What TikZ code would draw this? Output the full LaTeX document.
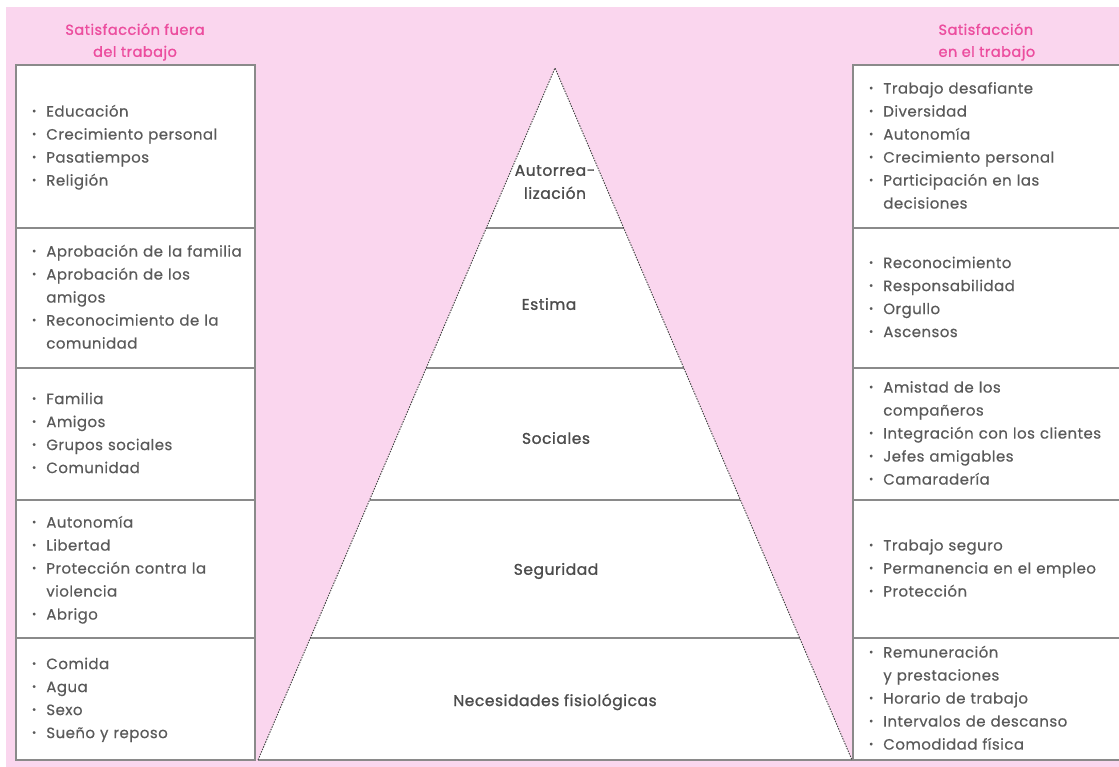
\documentclass[tikz,border=0pt]{standalone}
\usepackage{fontspec}
\setmainfont{Poppins}[LetterSpace=3,FakeBold=0.4]
\newfontfamily\etiqfont{Poppins}[LetterSpace=3.5,FakeBold=1.2]
\usetikzlibrary{positioning,calc}
\definecolor{rosa}{HTML}{FAD6EE}
\definecolor{rosatit}{HTML}{EC4D9E}
\definecolor{gristxt}{HTML}{5A5A5A}
\definecolor{grisln}{HTML}{8A8A8A}
\newcommand\pto{\raisebox{.25ex}{\scalebox{.7}{\textbullet}}}
\newcommand\lst[1]{\begin{tabular}{@{}l@{\hspace{10pt}}l@{}}#1\end{tabular}}

\begin{document}
\begin{tikzpicture}[x=1pt,y=-1pt,
        caja/.style={draw=grisln,line width=1.4pt,fill=white,outer sep=0pt,align=left,
          text=gristxt,font=\fontsize{15}{23}\selectfont},
        caja izq/.style={caja,text width=207pt,inner xsep=16pt},
        caja der/.style={caja,text width=258pt,inner xsep=16pt},
        etiq/.style={align=center,text=gristxt!85!black,font=\etiqfont\fontsize{15.5}{23}\selectfont},
        titulo/.style={text=rosatit,font=\etiqfont\fontsize{14.5}{22}\selectfont},
        nivel/.style={draw=grisln,line width=1.4pt},
        lado/.style={draw=black!75,line width=0.9pt,dash pattern=on 1.5pt off 1.2pt}]

        \useasboundingbox (0,0) rectangle (1119,767);
        \fill[white] (0,0) rectangle (1119,767);
        \fill[rosa] (6,7) rectangle (1119,767);

        \node[titulo,align=center] (t1) at (135,42) {Satisfacción fuera\\del trabajo};
        \node[titulo,align=left,anchor=west] (t2) at (935,42) {Satisfacción\\en el trabajo};

        \node[caja izq,minimum height=163pt,anchor=north west] (i1) at (16,65)
          {\lst{\pto & Educación\\ \pto & Crecimiento personal\\ \pto & Pasatiempos\\ \pto & Religión}};
        \node[caja izq,minimum height=140pt,below=0pt of i1] (i2)
          {\lst{\pto & Aprobación de la familia\\ \pto & Aprobación de los\\ & amigos\\ \pto & Reconocimiento de la\\ & comunidad}};
        \node[caja izq,minimum height=132pt,below=0pt of i2] (i3)
          {\lst{\pto & Familia\\ \pto & Amigos\\ \pto & Grupos sociales\\ \pto & Comunidad}};
        \node[caja izq,minimum height=138pt,below=0pt of i3] (i4)
          {\lst{\pto & Autonomía\\ \pto & Libertad\\ \pto & Protección contra la\\ & violencia\\ \pto & Abrigo}};
        \node[caja izq,minimum height=122pt,below=0pt of i4] (i5)
          {\lst{\pto & Comida\\ \pto & Agua\\ \pto & Sexo\\ \pto & Sueño y reposo}};

        \node[caja der,minimum height=163pt,anchor=north west] (d1) at (853,65)
          {\lst{\pto & Trabajo desafiante\\ \pto & Diversidad\\ \pto & Autonomía\\ \pto & Crecimiento personal\\ \pto & Participación en las\\ & decisiones}};
        \node[caja der,minimum height=140pt,below=0pt of d1] (d2)
          {\lst{\pto & Reconocimiento\\ \pto & Responsabilidad\\ \pto & Orgullo\\ \pto & Ascensos}};
        \node[caja der,minimum height=132pt,below=0pt of d2] (d3)
          {\lst{\pto & Amistad de los\\ & compañeros\\ \pto & Integración con los clientes\\ \pto & Jefes amigables\\ \pto & Camaradería}};
        \node[caja der,minimum height=138pt,below=0pt of d3] (d4)
          {\lst{\pto & Trabajo seguro\\ \pto & Permanencia en el empleo\\ \pto & Protección}};
        \node[caja der,minimum height=122pt,below=0pt of d4] (d5)
          {\lst{\pto & Remuneración\\ & y prestaciones\\ \pto & Horario de trabajo\\ \pto & Intervalos de descanso\\ \pto & Comodidad física}};

        \coordinate (cima) at (555,68);
        \coordinate (bi) at (258,760);
        \coordinate (bd) at (852,760);
        \fill[white] (cima) -- (bi) -- (bd) -- cycle;
        \foreach \t in {0.2312,0.4335,0.6243,0.8237}
          \draw[nivel] ($(cima)!\t!(bi)$) -- ($(cima)!\t!(bd)$);
        \draw[nivel] (bi) -- (bd);
        \draw[lado] (bi) -- (cima) -- (bd);

        \node[etiq] (n1) at (555,182) {Autorrea-\\lización};
        \node[etiq] (n2) at (549,304) {Estima};
        \node[etiq] (n3) at (556,438) {Sociales};
        \node[etiq] (n4) at (556,571) {Seguridad};
        \node[etiq] (n5) at (555,702) {Necesidades fisiológicas};
      \end{tikzpicture}
\end{document}
